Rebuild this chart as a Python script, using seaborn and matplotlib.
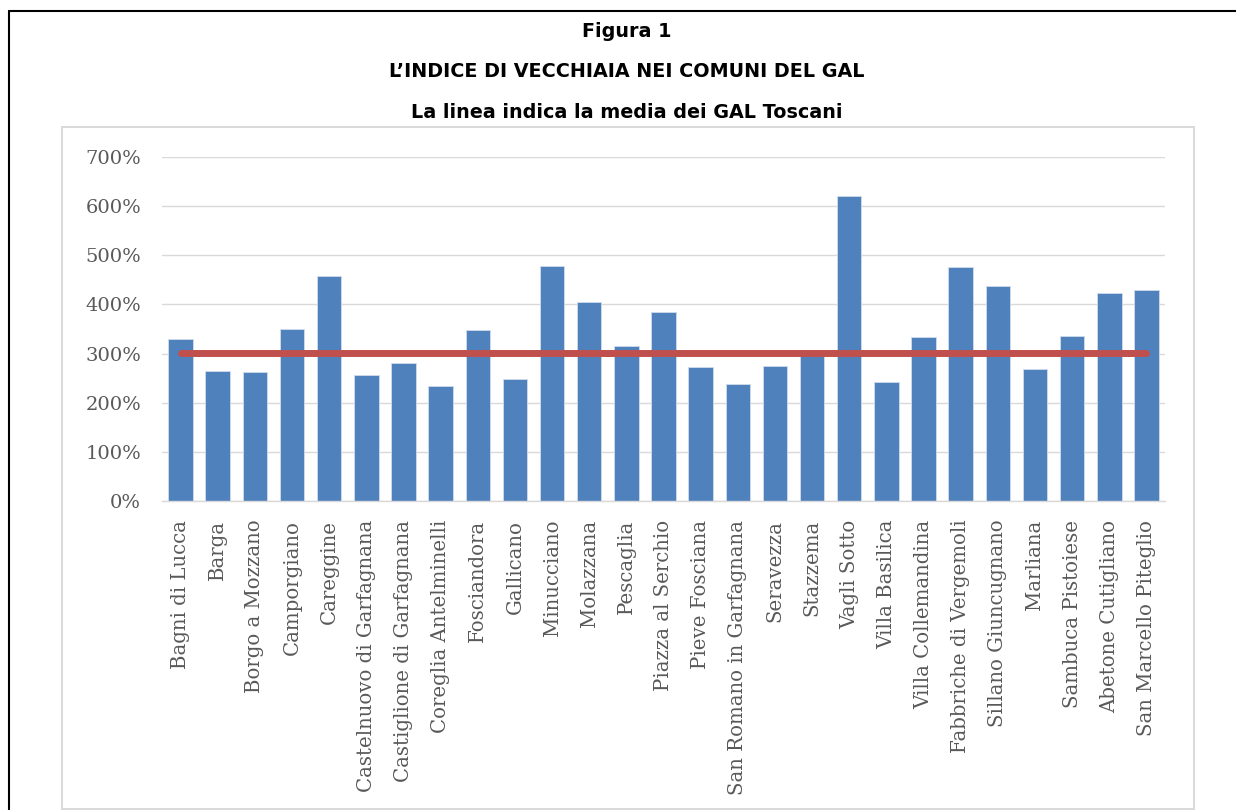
import matplotlib
matplotlib.use("Agg")
import matplotlib.pyplot as plt
from matplotlib.lines import Line2D
from matplotlib.patches import Rectangle
from matplotlib.ticker import FuncFormatter
import seaborn as sns
import pandas as pd

# ---- data ----
comuni = [
    "Bagni di Lucca", "Barga", "Borgo a Mozzano", "Camporgiano", "Careggine",
    "Castelnuovo di Garfagnana", "Castiglione di Garfagnana", "Coreglia Antelminelli",
    "Fosciandora", "Gallicano", "Minucciano", "Molazzana", "Pescaglia",
    "Piazza al Serchio", "Pieve Fosciana", "San Romano in Garfagnana", "Seravezza",
    "Stazzema", "Vagli Sotto", "Villa Basilica", "Villa Collemandina",
    "Fabbriche di Vergemoli", "Sillano Giuncugnano", "Marliana", "Sambuca Pistoiese",
    "Abetone Cutigliano", "San Marcello Piteglio",
]
indice = [329, 264, 263, 350, 457, 257, 281, 233, 348, 249, 478, 405, 315,
          385, 272, 238, 275, 299, 620, 242, 333, 476, 437, 268, 336, 423, 429]
media_gal_toscani = 301
yticks = [0, 100, 200, 300, 400, 500, 600, 700]

titolo1 = "Figura 1"
titolo2 = "L\u2019INDICE DI VECCHIAIA NEI COMUNI DEL GAL"
titolo3 = "La linea indica la media dei GAL Toscani"

df = pd.DataFrame({"comune": comuni, "indice": indice})

# ---- figure ----
sns.set_style("white")
W, H = 1236, 810
fig = plt.figure(figsize=(W / 100, H / 100), dpi=100)
fig.patch.set_facecolor("white")

# axes position (pixel based)
x0, x1 = 162, 1165
y_top, y_bot = 157, 501
ax = fig.add_axes([x0 / W, 1 - y_bot / H, (x1 - x0) / W, (y_bot - y_top) / H])

sns.barplot(data=df, x="comune", y="indice", color="#4F81BD", saturation=1,
            width=0.66, edgecolor="#D0DCEC", linewidth=0.6, ax=ax, zorder=2)

n = len(comuni)
ax.plot(range(n), [media_gal_toscani] * n, color="#C0504D", lw=5.0,
        solid_capstyle="round", zorder=3)

ax.set_xlim(-0.5, n - 0.5)
ax.set_ylim(0, 700)
ax.set_yticks(yticks)
ax.yaxis.set_major_formatter(FuncFormatter(lambda v, p: f"{v:.0f}%"))
ax.grid(axis="y", color="#D9D9D9", lw=1.0, zorder=0)
ax.set_axisbelow(True)
for s in ["top", "right", "left"]:
    ax.spines[s].set_visible(False)
ax.spines["bottom"].set_color("#D9D9D9")
ax.spines["bottom"].set_linewidth(1.0)
ax.set_xlabel("")
ax.set_ylabel("")
ax.tick_params(axis="both", length=0)
ax.tick_params(axis="y", pad=15, labelsize=14, labelcolor="#595959")
ax.tick_params(axis="x", pad=13.5, labelsize=14.2, labelcolor="#595959", rotation=90)
for lab in ax.get_yticklabels() + ax.get_xticklabels():
    lab.set_family("DejaVu Serif")
for lab in ax.get_xticklabels():
    lab.set_va("top")
    lab.set_ha("center")

# ---- frames ----
# inner chart frame (light gray)
fig.add_artist(Rectangle((62 / W, 1 - 808.5 / H), (1194 - 62) / W, (808.5 - 127) / H,
                         transform=fig.transFigure, fill=False,
                         edgecolor="#D9D9D9", lw=1.4))
# outer black border (left + top)
fig.add_artist(Line2D([9 / W, 9 / W], [0, 1 - 11 / H], transform=fig.transFigure,
                      color="black", lw=1.5))
fig.add_artist(Line2D([9 / W, 1.0], [1 - 11 / H, 1 - 11 / H], transform=fig.transFigure,
                      color="black", lw=1.5))

# ---- titles ----
cx = 627 / W
for txt, yy in [(titolo1, 31.7), (titolo2, 71.7), (titolo3, 113)]:
    fig.text(cx, 1 - yy / H, txt, ha="center", va="center", fontsize=13.8,
             fontweight="bold", family="DejaVu Sans", color="black")

fig.savefig("out.png", dpi=100)
